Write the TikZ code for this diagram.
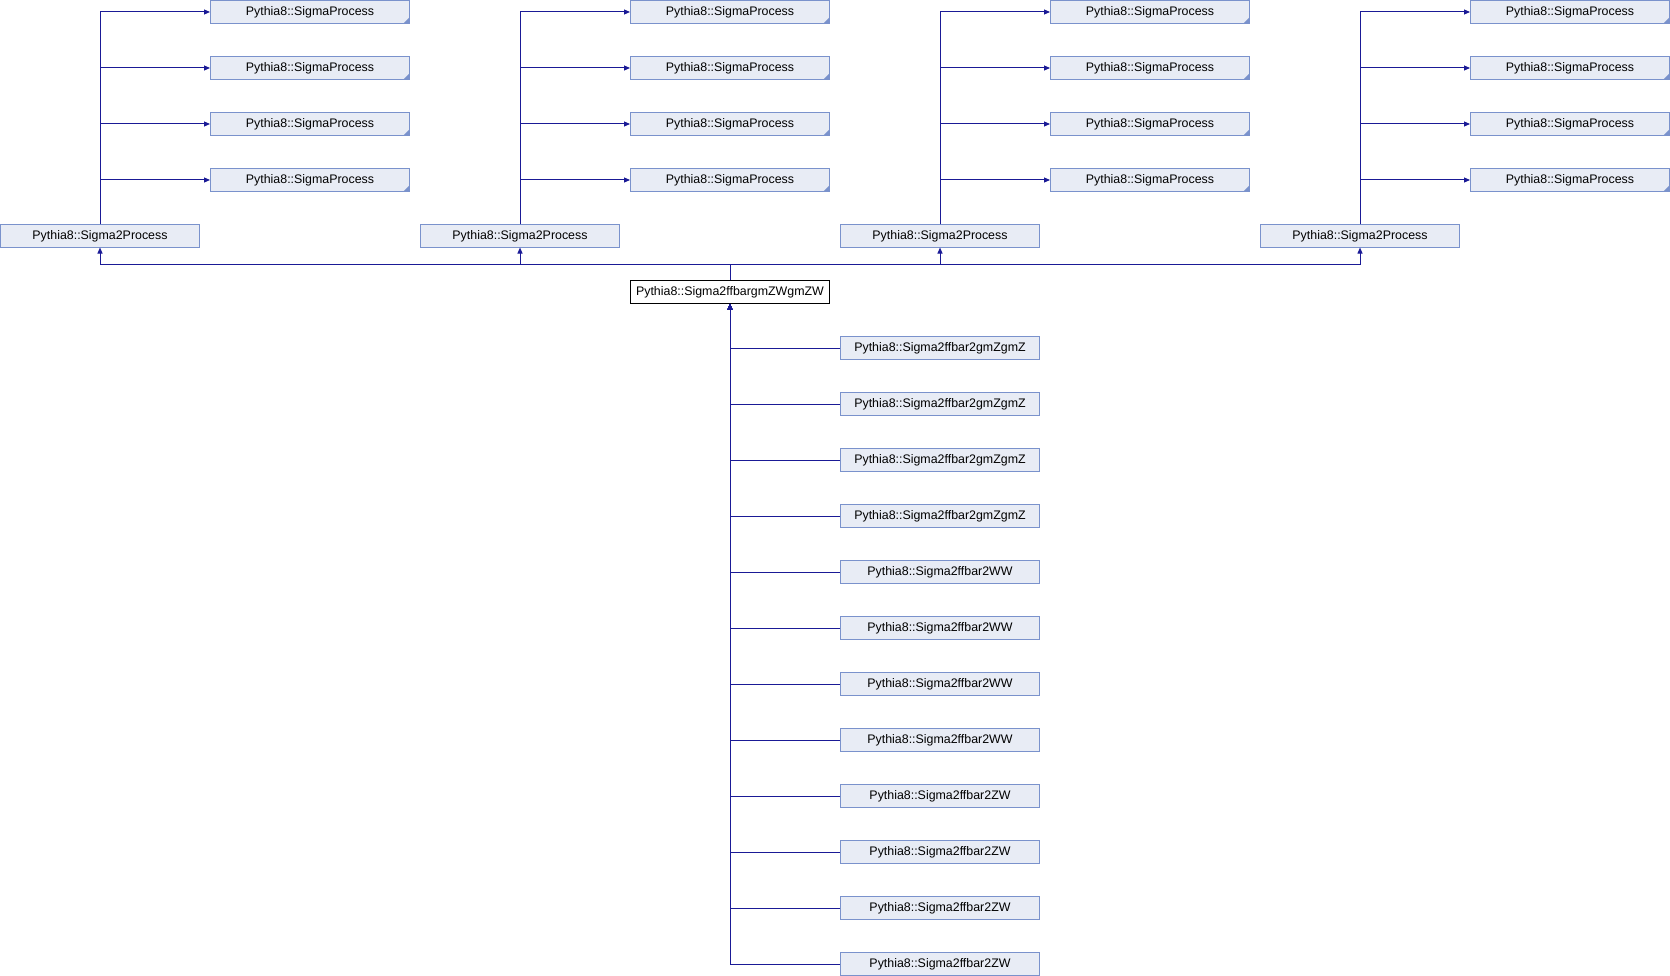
\documentclass[tikz,border=0pt]{standalone}
\usepackage{fontspec}
\setmainfont{Liberation Sans}
\usetikzlibrary{arrows.meta}
\definecolor{boxfill}{RGB}{232,236,245}
\definecolor{boxline}{RGB}{122,146,204}
\definecolor{edgecol}{RGB}{26,26,150}
\tikzset{
  box/.style={draw=boxline, fill=boxfill, line width=1pt, minimum width=199pt, minimum height=22.5pt, inner sep=0pt, font=\fontsize{12.4}{14}\selectfont},
  spbox/.style={box, path picture={\fill[boxline] (path picture bounding box.south east) -- ++(-6pt,0pt) -- ++(6pt,6pt) -- cycle;}},
  mainbox/.style={box, draw=black, fill=white},
  edge/.style={draw=edgecol, line width=1pt, -{Triangle[length=6pt,width=5pt]}}
}
\begin{document}
\begin{tikzpicture}[x=1pt,y=-1pt]
\useasboundingbox (0,0) rectangle (1670,976);
% Sigma2Process nodes and their SigmaProcess bases
\foreach \i/\x in {1/100,2/520,3/940,4/1360}{
  \node[box] (s\i) at (\x,235.8) {Pythia8::Sigma2Process};
  \foreach \j/\y in {1/12,2/68,3/124,4/180}{
    \node[spbox] (p\i\j) at (\x+210,\y) {Pythia8::SigmaProcess};
  }
}
% central
\node[mainbox] (c) at (730,292) {Pythia8::Sigma2ffbargmZWgmZW};
\coordinate (bus) at (730,264.3);
% derived
\foreach \k/\t in {0/Sigma2ffbar2gmZgmZ,1/Sigma2ffbar2gmZgmZ,2/Sigma2ffbar2gmZgmZ,3/Sigma2ffbar2gmZgmZ,4/Sigma2ffbar2WW,5/Sigma2ffbar2WW,6/Sigma2ffbar2WW,7/Sigma2ffbar2WW,8/Sigma2ffbar2ZW,9/Sigma2ffbar2ZW,10/Sigma2ffbar2ZW,11/Sigma2ffbar2ZW}{
  \node[box] (d\k) at (940,348+56*\k) {Pythia8::\t};
}
% edges Sigma2Process -> SigmaProcess, central -> Sigma2Process
\foreach \i in {1,2,3,4}{
  \foreach \j in {1,2,3,4}{
    \draw[edge] (s\i.north) |- (p\i\j.west);
  }
  \draw[edge] (c.north) -- (bus) -| (s\i.south);
}
% derived -> central
\foreach \k in {0,...,11}{
  \draw[edge] (d\k.west) -| (c.south);
}
\end{tikzpicture}
\end{document}
